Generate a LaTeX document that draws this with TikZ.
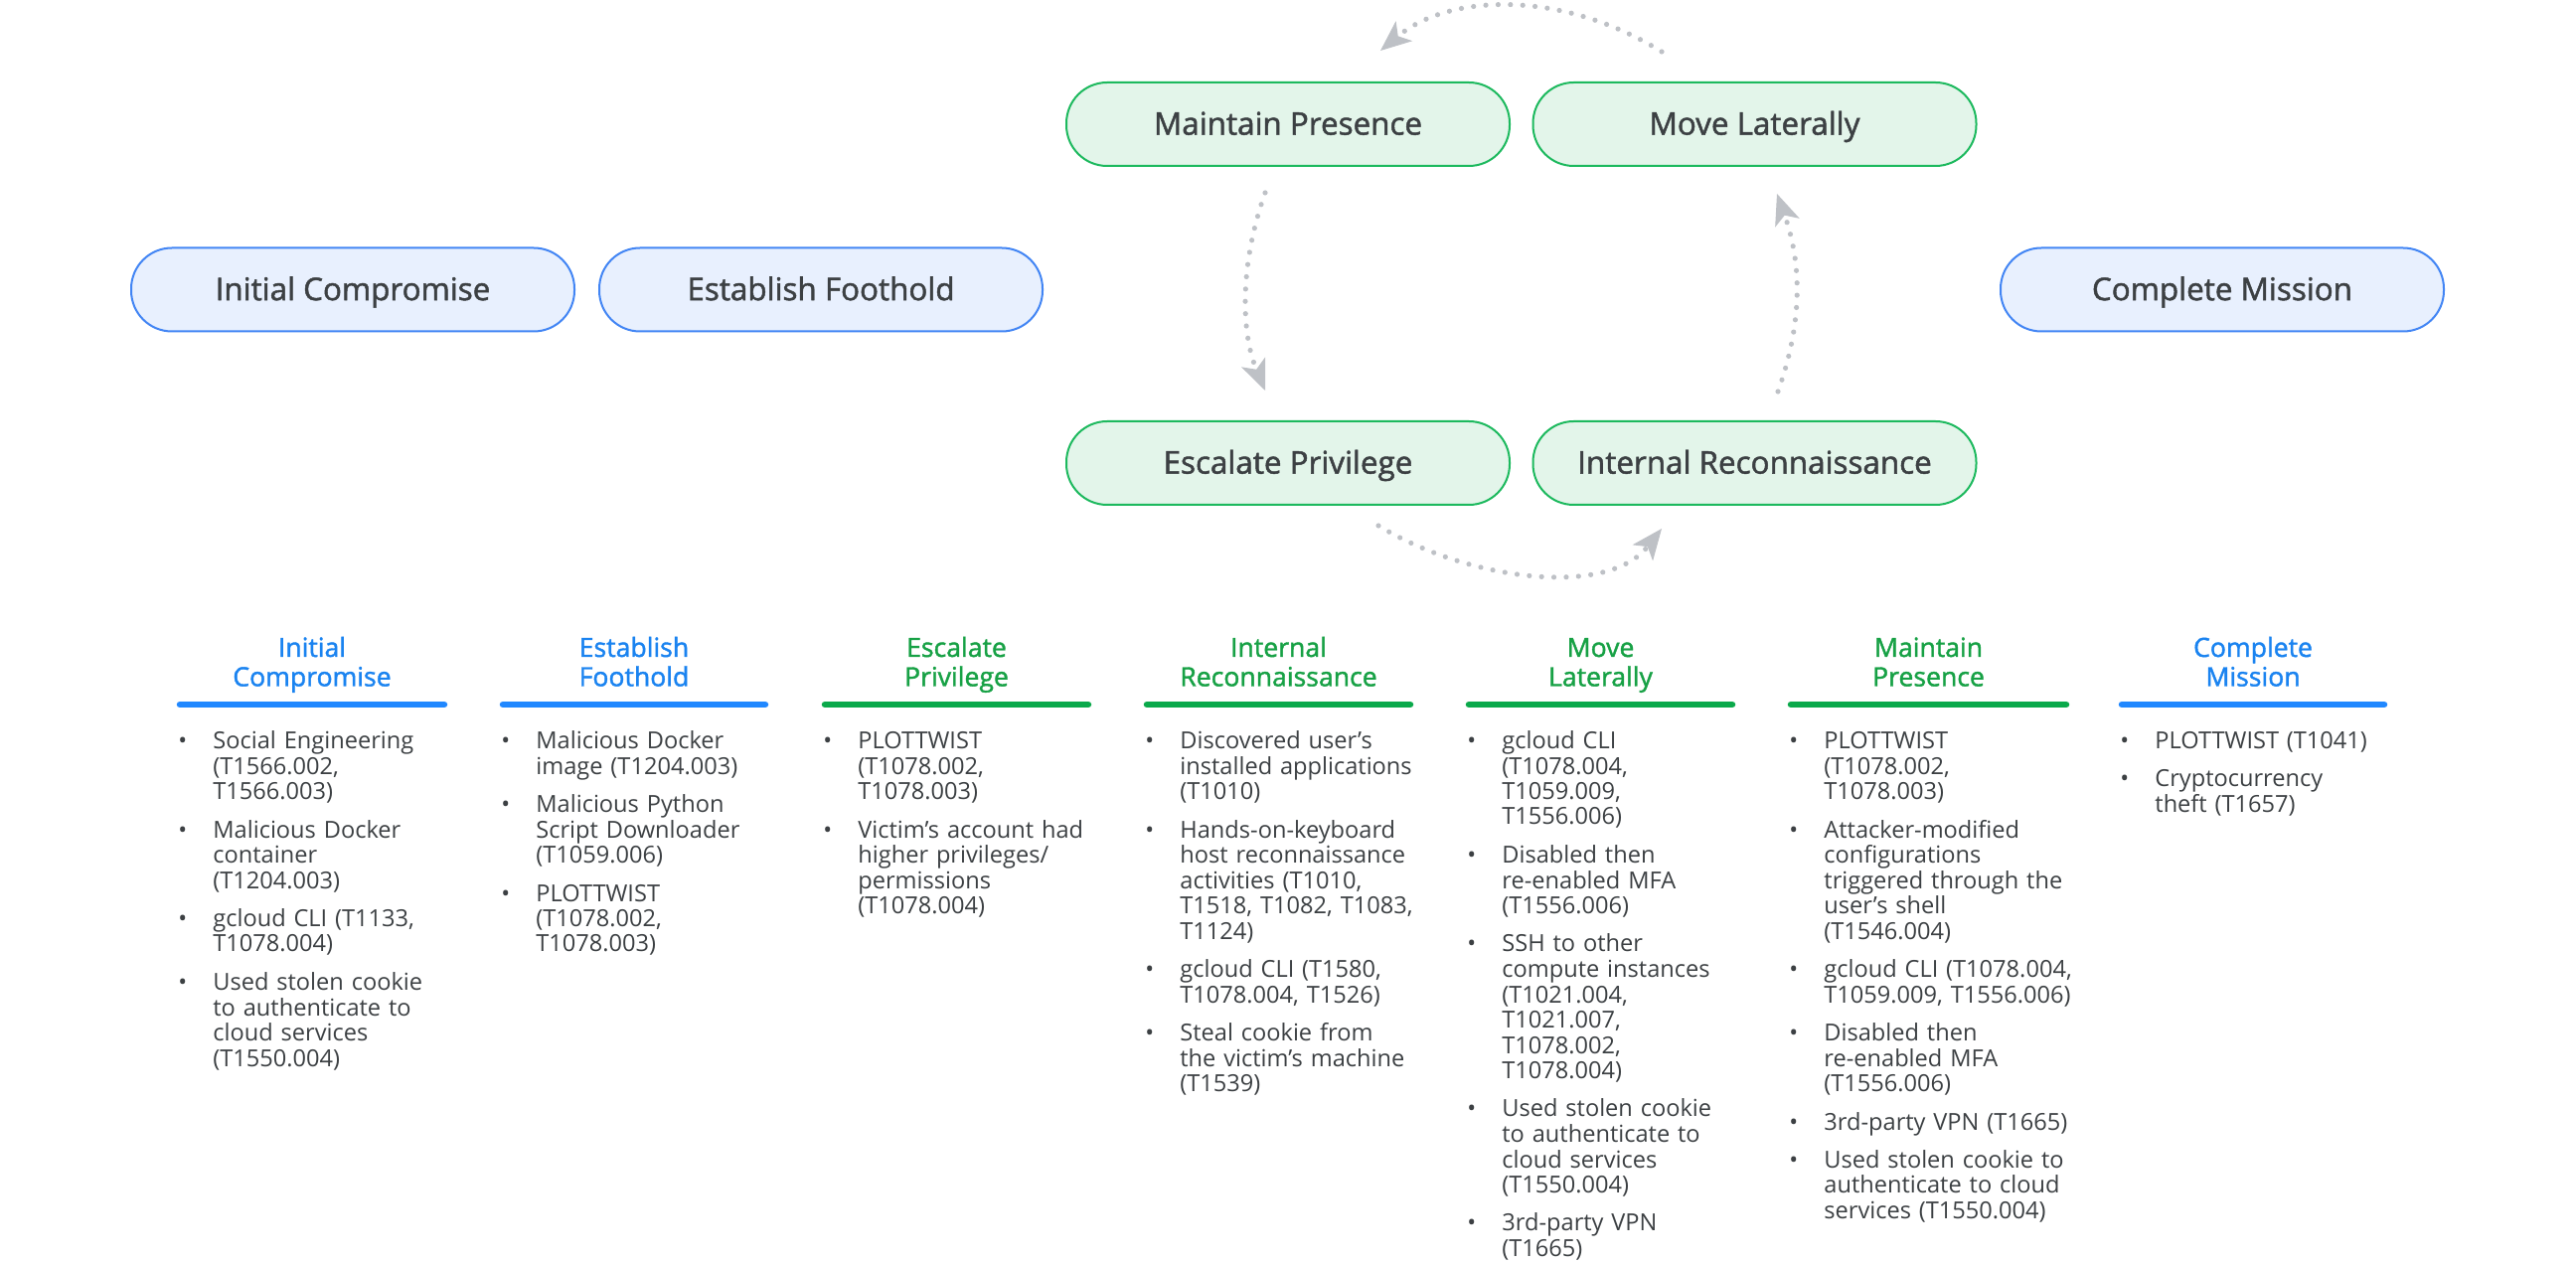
\documentclass[tikz,border=0pt]{standalone}
\usepackage{fontspec}
\setmainfont{Open Sans}
\newfontfamily\medfont{Open Sans}[FakeBold=1.5]
\usetikzlibrary{arrows.meta}
\definecolor{bstroke}{HTML}{4285F4}
\definecolor{bfill}{HTML}{E8F0FE}
\definecolor{gstroke}{HTML}{1DB95E}
\definecolor{gfill}{HTML}{E3F5EA}
\definecolor{txt}{HTML}{3C4043}
\definecolor{hblue}{HTML}{1A83F0}
\definecolor{hgreen}{HTML}{17A145}
\definecolor{barblue}{HTML}{2188FF}
\definecolor{bargreen}{HTML}{0BA94B}
\definecolor{agray}{HTML}{BEC1C6}
\newcommand{\itm}[1]{\par\hangindent=17.5pt\hangafter=1\makebox[17.5pt][l]{\textbullet}#1\par\vspace{6.5pt}}
\newcommand{\listfont}{\fontsize{11.8pt}{12.75pt}\selectfont}
\newcommand{\headfont}{\medfont\fontsize{13.3pt}{14.75pt}\selectfont}
\newcommand{\boxfont}{\medfont\fontsize{15.7pt}{18pt}\selectfont}
\tikzset{
  phase/.style={draw, line width=1pt, rounded corners=20.5pt, minimum width=223pt,
    minimum height=42pt, inner sep=0pt, text height=12.6pt, text depth=2pt,
    font=\boxfont, text=txt},
  bluebox/.style={phase, draw=bstroke, fill=bfill},
  greenbox/.style={phase, draw=gstroke, fill=gfill},
  cyc/.style={draw=agray, line width=2.6pt, line cap=round, dash pattern=on 0pt off 6.2pt,
    -{Stealth[length=15.5pt,width=13pt,inset=4pt,line width=0.5pt]}},
  head/.style={anchor=base, inner sep=0pt, text width=136pt, align=center, font=\headfont},
  bhead/.style={head, text=hblue},
  ghead/.style={head, text=hgreen},
  bar/.style={line width=3.25pt, line cap=round},
  listnode/.style={anchor=base west, inner sep=0pt, text width=160pt, font=\listfont, text=txt}
}
\begin{document}
\begin{tikzpicture}[x=0.5pt,y=-0.5pt]
\useasboundingbox (0,0) rectangle (2592,1272);

% phase boxes
\node[bluebox] (ic) at (355,291.5) {Initial Compromise};
\node[bluebox] (ef) at (826,291.5) {Establish Foothold};
\node[greenbox] (mp) at (1296,125) {Maintain Presence};
\node[greenbox] (ml) at (1765.5,125) {Move Laterally};
\node[greenbox] (ep) at (1296,466) {Escalate Privilege};
\node[greenbox] (ir) at (1765.5,466) {Internal Reconnaissance};
\node[bluebox] (cm) at (2236,291.5) {Complete Mission};

% cycle arrows
\coordinate (t1) at (1672,52);  \coordinate (t2) at (1389,51);
\coordinate (b1) at (1387,529); \coordinate (b2) at (1672,532);
\coordinate (l1) at (1273,194); \coordinate (l2) at (1273,393);
\coordinate (r1) at (1789,394); \coordinate (r2) at (1788,195);
\draw[cyc] (t1) .. controls (1572,-10) and (1459,-7) .. (t2);
\draw[cyc] (b1) .. controls (1477,584) and (1617,602) .. (b2);
\draw[cyc] (l1) .. controls (1248,264) and (1248,333) .. (l2);
\draw[cyc] (r1) .. controls (1814,324) and (1813,265) .. (r2);

% column headings
\node[bhead] (h1) at (314,661) {Initial\\Compromise};
\node[bhead] (h2) at (638,661) {Establish\\Foothold};
\node[ghead] (h3) at (962.5,661) {Escalate\\Privilege};
\node[ghead] (h4) at (1286.5,661) {Internal\\Reconnaissance};
\node[ghead] (h5) at (1610.5,661) {Move\\Laterally};
\node[ghead] (h6) at (1940.5,661) {Maintain\\Presence};
\node[bhead] (h7) at (2267,661) {Complete\\Mission};

% bars
\draw[bar, barblue] (181,709) -- (447,709);
\draw[bar, barblue] (506,709) -- (770,709);
\draw[bar, bargreen] (830,709) -- (1095,709);
\draw[bar, bargreen] (1154,709) -- (1419,709);
\draw[bar, bargreen] (1478,709) -- (1743,709);
\draw[bar, bargreen] (1802,709) -- (2079,709);
\draw[bar, barblue] (2135,709) -- (2399,709);

% lists
\node[listnode] (c1) at (179,728) {%
\itm{Social Engineering\newline (T1566.002,\newline T1566.003)}%
\itm{Malicious Docker\newline container\newline (T1204.003)}%
\itm{gcloud CLI (T1133,\newline T1078.004)}%
\itm{Used stolen cookie\newline to authenticate to\newline cloud services\newline (T1550.004)}};

\node[listnode] (c2) at (504,728) {%
\itm{Malicious Docker\newline image (T1204.003)}%
\itm{Malicious Python\newline Script Downloader\newline (T1059.006)}%
\itm{PLOTTWIST\newline (T1078.002,\newline T1078.003)}};

\node[listnode] (c3) at (828,728) {%
\itm{PLOTTWIST\newline (T1078.002,\newline T1078.003)}%
\itm{Victim's account had\newline higher privileges/\newline permissions\newline (T1078.004)}};

\node[listnode] (c4) at (1152,728) {%
\itm{Discovered user's\newline installed applications\newline (T1010)}%
\itm{Hands-on-keyboard\newline host reconnaissance\newline activities (T1010,\newline T1518, T1082, T1083,\newline T1124)}%
\itm{gcloud CLI (T1580,\newline T1078.004, T1526)}%
\itm{Steal cookie from\newline the victim's machine\newline (T1539)}};

\node[listnode] (c5) at (1476,728) {%
\itm{gcloud CLI\newline (T1078.004,\newline T1059.009,\newline T1556.006)}%
\itm{Disabled then\newline re-enabled MFA\newline (T1556.006)}%
\itm{SSH to other\newline compute instances\newline (T1021.004,\newline T1021.007,\newline T1078.002,\newline T1078.004)}%
\itm{Used stolen cookie\newline to authenticate to\newline cloud services\newline (T1550.004)}%
\itm{3rd-party VPN\newline (T1665)}};

\node[listnode] (c6) at (1800,728) {%
\itm{PLOTTWIST\newline (T1078.002,\newline T1078.003)}%
\itm{Attacker-modified\newline configurations\newline triggered through the\newline user’s shell\newline (T1546.004)}%
\itm{gcloud CLI (T1078.004,\newline T1059.009, T1556.006)}%
\itm{Disabled then\newline re-enabled MFA\newline (T1556.006)}%
\itm{3rd-party VPN (T1665)}%
\itm{Used stolen cookie to\newline authenticate to cloud\newline services (T1550.004)}};

\node[listnode] (c7) at (2133,728) {%
\itm{PLOTTWIST (T1041)}%
\itm{Cryptocurrency\newline theft (T1657)}};
\end{tikzpicture}
\end{document}
